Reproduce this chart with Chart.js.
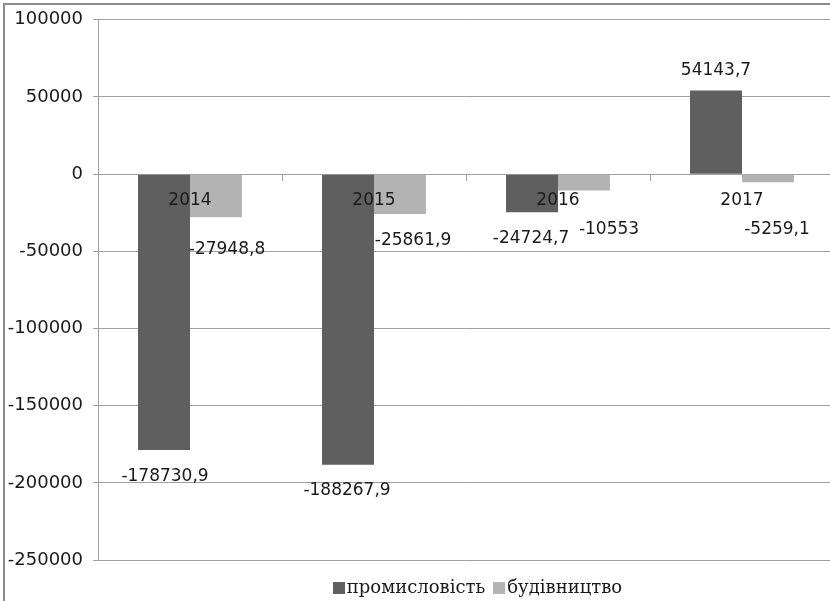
<!DOCTYPE html>
<html>
<head>
    <meta charset="UTF-8">
    <title>Промисловість і будівництво</title>
    <script src="https://cdn.jsdelivr.net/npm/chart.js"></script>
    <style>
        html, body { margin: 0; padding: 0; overflow: hidden; background: #fff; }
        #frame {
            position: absolute; left: 3px; top: 3px;
            width: 860px; height: 610px; overflow: hidden;
            border-left: 2px solid #8c8c8c; border-top: 2px solid #8c8c8c;
        }
        #frame canvas { display: block; margin-top: -6px; }
        #legend {
            position: absolute; left: 0; top: 577px; width: 955px;
            text-align: center; font: 18px "DejaVu Serif"; line-height: 20px; color: #1a1a1a;
            white-space: nowrap;
        }
        #legend .item { margin: 0 4px; }
        #legend .box {
            display: inline-block; width: 12px; height: 12px;
            margin-right: 2px; vertical-align: -1px;
        }
    </style>
</head>
<body>
    <div id="frame">
        <canvas id="barChart" width="850" height="600"></canvas>
    </div>
    <div id="legend"></div>

    <script>
        const years = ['2014', '2015', '2016', '2017'];
        const industry = [-178730.9, -188267.9, -24724.7, 54143.7];
        const construction = [-27948.8, -25861.9, -10553, -5259.1];
        const seriesNames = ['промисловість', 'будівництво'];
        const seriesColors = ['#5f5f5f', '#b3b3b3'];
        const yTicks = [100000, 50000, 0, -50000, -100000, -150000, -200000, -250000];

        // where each value label sits, relative to the end of its bar
        const labelNudge = [
            [[1, 27], [-1, 26], [-1, 26], [0, -20]],
            [[11, 32], [13, 27], [25, 39], [9, 47]]
        ];

        const gridGray = '#a0a0a0';

        function fmt(v) {
            return String(v).replace('.', ',');
        }

        // value labels next to the bars
        const valueLabels = {
            id: 'valueLabels',
            afterDraw(chart) {
                const ctx = chart.ctx;
                ctx.save();
                ctx.font = '17px "DejaVu Sans"';
                ctx.fillStyle = '#1a1a1a';
                ctx.textAlign = 'center';
                ctx.textBaseline = 'middle';
                chart.data.datasets.forEach((ds, i) => {
                    chart.getDatasetMeta(i).data.forEach((bar, j) => {
                        const [dx, dy] = labelNudge[i][j];
                        ctx.fillText(fmt(ds.data[j]), bar.x + dx, bar.y + dy);
                    });
                });
                ctx.restore();
            }
        };

        const ctx = document.getElementById('barChart').getContext('2d');
        const chart = new Chart(ctx, {
            type: 'bar',
            data: {
                labels: years,
                datasets: [industry, construction].map((values, i) => ({
                    label: seriesNames[i],
                    data: values,
                    backgroundColor: seriesColors[i],
                    borderWidth: 0,
                    categoryPercentage: 0.565,
                    barPercentage: 1
                }))
            },
            options: {
                responsive: false,
                animation: false,
                layout: { padding: { top: 14, right: 21, bottom: 39, left: 0 } },
                scales: {
                    x: {
                        position: { y: 0 },
                        offset: true,
                        grid: {
                            offset: true,
                            drawOnChartArea: false,
                            drawTicks: true,
                            tickLength: 6,
                            color: gridGray
                        },
                        border: { display: true, color: gridGray },
                        ticks: {
                            z: 1,
                            padding: 10,
                            color: '#1a1a1a',
                            font: { family: 'DejaVu Sans', size: 17 }
                        }
                    },
                    y: {
                        min: -250000,
                        max: 100000,
                        afterFit(scale) { scale.width = 93; },
                        afterBuildTicks(scale) {
                            scale.ticks = yTicks.map(v => ({ value: v }));
                        },
                        grid: { color: gridGray, tickLength: 5 },
                        border: { display: true, color: gridGray },
                        ticks: {
                            padding: 10,
                            color: '#1a1a1a',
                            font: { family: 'DejaVu Sans', size: 18 },
                            callback: v => String(v)
                        }
                    }
                },
                plugins: {
                    legend: { display: false },
                    tooltip: { enabled: false }
                }
            },
            plugins: [valueLabels]
        });

        // legend below the chart, built from the datasets
        const legend = document.getElementById('legend');
        chart.data.datasets.forEach(ds => {
            const item = document.createElement('span');
            item.className = 'item';
            const box = document.createElement('span');
            box.className = 'box';
            box.style.background = ds.backgroundColor;
            item.appendChild(box);
            item.appendChild(document.createTextNode(ds.label));
            legend.appendChild(item);
        });
    </script>
</body>
</html>
